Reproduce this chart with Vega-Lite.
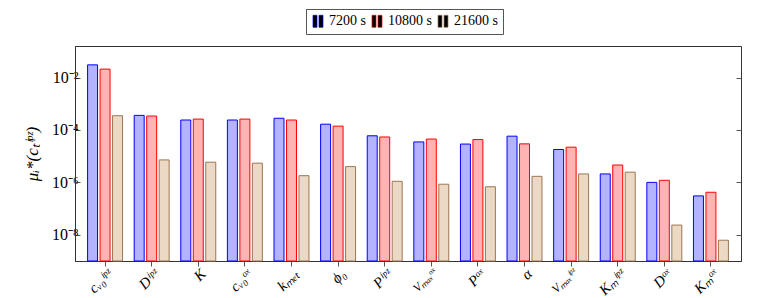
{
  "$schema": "https://vega.github.io/schema/vega-lite/v6.json",
  "autosize": "none",
  "width": 666,
  "height": 215,
  "padding": {"left": 75, "top": 46, "right": 23, "bottom": 37},
  "background": "white",
  "config": {
    "view": {"stroke": "#333", "strokeWidth": 1},
    "font": "Liberation Serif"
  },
  "data": {
    "values": [
      {"p": "cᵥ₀ⁱᵖᶻ", "s": "7200 s", "v": 0.0305},
      {"p": "cᵥ₀ⁱᵖᶻ", "s": "10800 s", "v": 0.021},
      {"p": "cᵥ₀ⁱᵖᶻ", "s": "21600 s", "v": 0.00035},
      {"p": "Dⁱᵖᶻ", "s": "7200 s", "v": 0.00036},
      {"p": "Dⁱᵖᶻ", "s": "10800 s", "v": 0.00034},
      {"p": "Dⁱᵖᶻ", "s": "21600 s", "v": 7.2e-6},
      {"p": "K", "s": "7200 s", "v": 0.00024},
      {"p": "K", "s": "10800 s", "v": 0.00026},
      {"p": "K", "s": "21600 s", "v": 5.9e-6},
      {"p": "cᵥ₀ᵒˣ", "s": "7200 s", "v": 0.00024},
      {"p": "cᵥ₀ᵒˣ", "s": "10800 s", "v": 0.00026},
      {"p": "cᵥ₀ᵒˣ", "s": "21600 s", "v": 5.4e-6},
      {"p": "kₘₑₜ", "s": "7200 s", "v": 0.00028},
      {"p": "kₘₑₜ", "s": "10800 s", "v": 0.00024},
      {"p": "kₘₑₜ", "s": "21600 s", "v": 1.8e-6},
      {"p": "ϕ₀", "s": "7200 s", "v": 0.000166},
      {"p": "ϕ₀", "s": "10800 s", "v": 0.00014},
      {"p": "ϕ₀", "s": "21600 s", "v": 4.0e-6},
      {"p": "Pⁱᵖᶻ", "s": "7200 s", "v": 6.0e-5},
      {"p": "Pⁱᵖᶻ", "s": "10800 s", "v": 5.4e-5},
      {"p": "Pⁱᵖᶻ", "s": "21600 s", "v": 1.1e-6},
      {"p": "Vₘₐₓᵒˣ", "s": "7200 s", "v": 3.5e-5},
      {"p": "Vₘₐₓᵒˣ", "s": "10800 s", "v": 4.5e-5},
      {"p": "Vₘₐₓᵒˣ", "s": "21600 s", "v": 8.5e-7},
      {"p": "Pᵒˣ", "s": "7200 s", "v": 2.9e-5},
      {"p": "Pᵒˣ", "s": "10800 s", "v": 4.3e-5},
      {"p": "Pᵒˣ", "s": "21600 s", "v": 6.8e-7},
      {"p": "α", "s": "7200 s", "v": 5.8e-5},
      {"p": "α", "s": "10800 s", "v": 2.95e-5},
      {"p": "α", "s": "21600 s", "v": 1.7e-6},
      {"p": "Vₘₐₓⁱᵖᶻ", "s": "7200 s", "v": 1.8e-5},
      {"p": "Vₘₐₓⁱᵖᶻ", "s": "10800 s", "v": 2.2e-5},
      {"p": "Vₘₐₓⁱᵖᶻ", "s": "21600 s", "v": 2.1e-6},
      {"p": "Kₘⁱᵖᶻ", "s": "7200 s", "v": 2.1e-6},
      {"p": "Kₘⁱᵖᶻ", "s": "10800 s", "v": 4.6e-6},
      {"p": "Kₘⁱᵖᶻ", "s": "21600 s", "v": 2.45e-6},
      {"p": "Dᵒˣ", "s": "7200 s", "v": 1.0e-6},
      {"p": "Dᵒˣ", "s": "10800 s", "v": 1.2e-6},
      {"p": "Dᵒˣ", "s": "21600 s", "v": 2.35e-8},
      {"p": "Kₘᵒˣ", "s": "7200 s", "v": 3.05e-7},
      {"p": "Kₘᵒˣ", "s": "10800 s", "v": 4.2e-7},
      {"p": "Kₘᵒˣ", "s": "21600 s", "v": 6.2e-9}
    ]
  },
  "layer": [
    {
      "mark": {"type": "bar", "strokeWidth": 1},
      "encoding": {
        "x": {
          "field": "p", "type": "nominal", "sort": null,
          "scale": {"paddingInner": 0.25, "paddingOuter": 0.27},
          "axis": {
            "orient": "bottom", "title": null, "labelAngle": -45,
            "labelFont": "Liberation Serif", "labelFontStyle": "italic",
            "labelFontSize": {"condition": {"test": "indexof(datum.label, 'ₘₐₓ') >= 0", "value": 12}, "value": 15},
            "labelColor": "#000", "domainColor": "#333", "tickColor": "#555",
            "tickSize": 5, "labelPadding": 0
          }
        },
        "xOffset": {
          "field": "s", "type": "nominal", "sort": ["7200 s", "10800 s", "21600 s"],
          "scale": {"paddingInner": 0.2, "paddingOuter": 0}
        },
        "y": {
          "field": "v", "type": "quantitative",
          "scale": {"type": "log", "domain": [1e-9, 0.16], "nice": false},
          "axis": {
            "orient": "left", "values": [1e-8, 1e-6, 1e-4, 1e-2],
            "labelExpr": "datum.value < 1e-7 ? '10⁻⁸' : datum.value < 1e-5 ? '10⁻⁶' : datum.value < 1e-3 ? '10⁻⁴' : '10⁻²'",
            "tickSize": -5, "tickColor": "#555", "domainColor": "#333",
            "labelFont": "Liberation Serif", "labelFontSize": 16, "labelColor": "#000",
            "labelPadding": 2, "grid": false,
            "title": "μᵢ*(cₜⁱᵖᶻ)", "titleFont": "Liberation Serif", "titleFontStyle": "italic",
            "titleFontSize": 17, "titleFontWeight": "normal", "titleColor": "#000", "titlePadding": 10
          }
        },
        "y2": {"datum": 1e-9},
        "fill": {
          "field": "s", "type": "nominal", "sort": ["7200 s", "10800 s", "21600 s"],
          "scale": {"range": ["#b3b3ff", "#ffb3b3", "#ebd9c6"]},
          "legend": {
            "orient": "none", "legendX": 231, "legendY": -37, "direction": "horizontal",
            "title": null, "strokeColor": "#555", "padding": 5, "fillColor": "white",
            "symbolType": "M-1,-1.2H-0.2V1.2H-1Z M0.2,-1.2H1V1.2H0.2Z", "symbolSize": 100,
            "symbolStrokeWidth": 0.7, "labelFont": "Liberation Serif", "labelFontSize": 14,
            "labelColor": "#000", "columnPadding": 4, "labelOffset": 4
          }
        },
        "stroke": {
          "field": "s", "type": "nominal", "sort": ["7200 s", "10800 s", "21600 s"],
          "scale": {"range": ["#0000ff", "#ff0000", "#9c7650"]},
          "legend": {
            "orient": "none", "legendX": 231, "legendY": -37, "direction": "horizontal",
            "title": null, "strokeColor": "#555", "padding": 5, "fillColor": "white",
            "symbolType": "M-1,-1.2H-0.2V1.2H-1Z M0.2,-1.2H1V1.2H0.2Z", "symbolSize": 100,
            "symbolStrokeWidth": 0.7, "labelFont": "Liberation Serif", "labelFontSize": 14,
            "labelColor": "#000", "columnPadding": 4, "labelOffset": 4
          }
        }
      }
    },
    {
      "mark": {"type": "bar", "opacity": 0},
      "encoding": {
        "x": {"field": "p", "type": "nominal", "sort": null},
        "xOffset": {"field": "s", "type": "nominal", "sort": ["7200 s", "10800 s", "21600 s"]},
        "y": {
          "field": "v", "type": "quantitative",
          "axis": {"orient": "right", "title": null, "labels": false, "domain": false, "grid": false,
                   "values": [1e-8, 1e-6, 1e-4, 1e-2], "tickSize": -5, "tickColor": "#555"}
        },
        "y2": {"datum": 1e-9}
      }
    }
  ],
  "resolve": {"axis": {"y": "independent"}}
}
